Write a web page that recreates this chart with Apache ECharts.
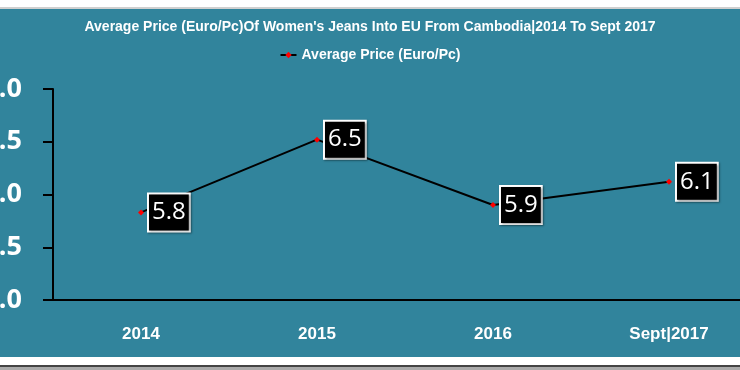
<!DOCTYPE html>
<html>
<head>
<meta charset="utf-8">
<script src="https://cdn.jsdelivr.net/npm/echarts@6/dist/echarts.min.js"></script>
<style>
html,body{margin:0;padding:0;background:#ffffff;}
#c{width:740px;height:370px;}
</style>
</head>
<body>
<div id="c"></div>
<script>
const categories = ['2014', '2015', '2016', 'Sept|2017'];
const avgPrice = [5.83, 6.52, 5.9, 6.12];
const labelText = ['5.8', '6.5', '5.9', '6.1'];
const yTicks = [5.0, 5.5, 6.0, 6.5, 7.0];
const seriesName = 'Average Price (Euro/Pc)';
const titleText = "Average Price (Euro/Pc)Of Women's Jeans Into EU From Cambodia|2014 To Sept 2017";

const chart = echarts.init(document.getElementById('c'), null, {renderer: 'canvas'});
const font = '"Liberation Sans Narrow", "Liberation Sans", Arial, sans-serif';
chart.setOption({
  backgroundColor: '#ffffff',
  animation: false,
  graphic: [
    {type: 'rect', z: -10, silent: true, shape: {x: 0, y: 7, width: 740, height: 2}, style: {fill: '#cfcfcf'}},
    {type: 'rect', z: -10, silent: true, shape: {x: 0, y: 9, width: 740, height: 348}, style: {fill: '#31849C'}},
    {type: 'rect', z: -10, silent: true, shape: {x: 0, y: 365, width: 740, height: 2}, style: {fill: '#444444'}},
    {type: 'rect', z: -10, silent: true, shape: {x: 0, y: 367, width: 740, height: 3}, style: {fill: '#aaaaaa'}}
  ],
  title: {
    text: titleText,
    left: 'center',
    top: 15,
    textStyle: {color: '#ffffff', fontSize: 14, fontWeight: 'bold', fontFamily: font}
  },
  legend: {
    data: [seriesName],
    top: 43,
    left: 'center',
    itemWidth: 16,
    itemHeight: 8,
    itemGap: 4,
    textStyle: {color: '#ffffff', fontSize: 14, fontWeight: 'bold', fontFamily: font}
  },
  grid: {left: 53, top: 89, width: 704, bottom: 70, containLabel: false, outerBoundsMode: 'none'},
  xAxis: {
    type: 'category',
    data: categories,
    boundaryGap: true,
    axisLine: {lineStyle: {color: '#000000', width: 2}},
    axisTick: {show: false},
    axisLabel: {color: '#ffffff', fontSize: 17, fontWeight: 'bold', fontFamily: font, margin: 26}
  },
  yAxis: {
    type: 'value',
    min: yTicks[0],
    max: yTicks[yTicks.length - 1],
    interval: 0.5,
    splitLine: {show: false},
    axisLine: {show: true, lineStyle: {color: '#000000', width: 2}},
    axisTick: {show: true, length: 10, lineStyle: {color: '#000000', width: 2}},
    axisLabel: {
      color: '#ffffff', fontSize: 27, fontWeight: 'bold', fontFamily: '"Open Sans", sans-serif', margin: 31,
      formatter: v => v.toFixed(1)
    }
  },
  series: [{
    name: seriesName,
    type: 'line',
    data: avgPrice,
    symbol: 'diamond',
    symbolSize: 6,
    itemStyle: {color: '#ff0000'},
    lineStyle: {color: '#000000', width: 2},
    label: {
      show: true,
      position: 'right',
      distance: 5,
      formatter: p => labelText[p.dataIndex],
      color: '#ffffff',
      fontSize: 24,
      fontFamily: '"Open Sans", sans-serif',
      backgroundColor: '#000000',
      borderColor: '#ffffff',
      borderWidth: 2,
      padding: [7, 3, 5, 3],
      shadowColor: 'rgba(0,0,0,0.4)',
      shadowBlur: 2,
      shadowOffsetX: 1,
      shadowOffsetY: 1
    },
    labelLayout: {hideOverlap: false}
  }]
});
</script>
</body>
</html>
